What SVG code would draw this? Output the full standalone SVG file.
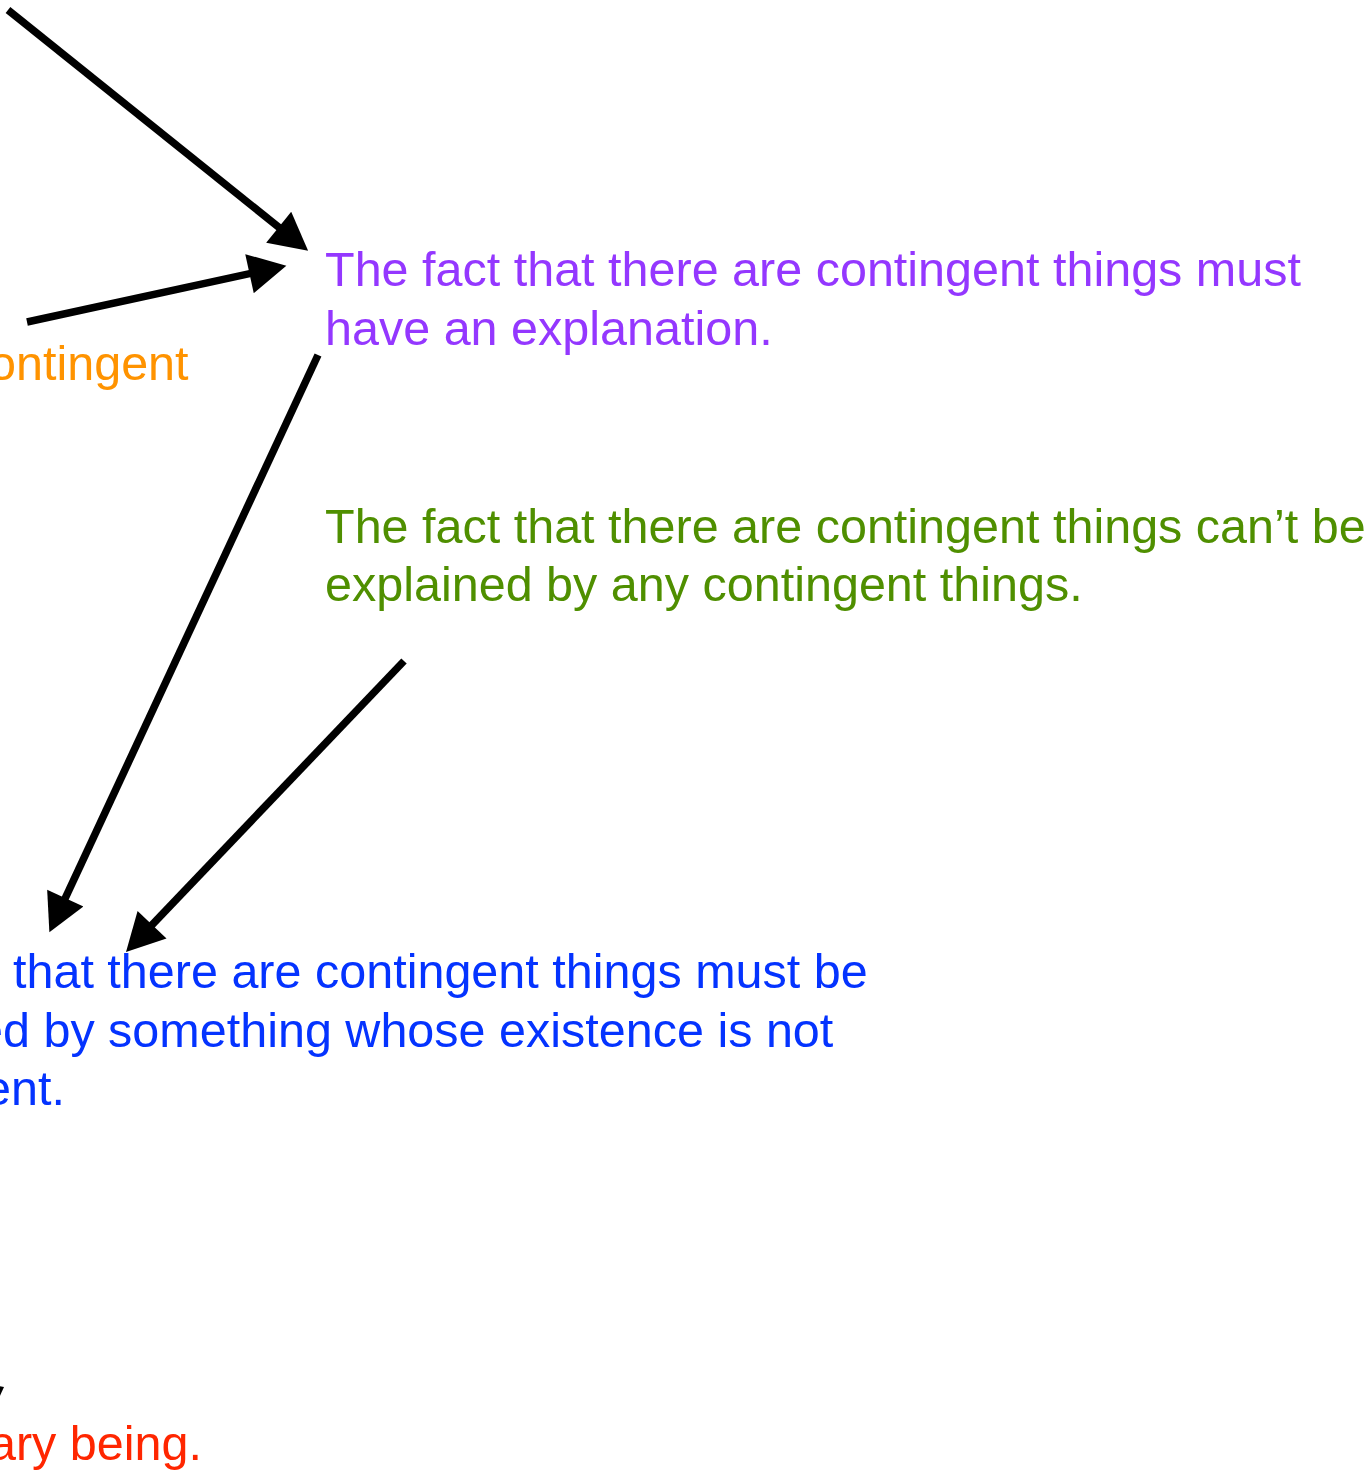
<svg xmlns="http://www.w3.org/2000/svg" width="1367" height="1475" viewBox="0 0 1367 1475">
<defs>
<style>
text{font-family:"Liberation Sans",Arial,sans-serif;font-size:48.5px}
.purple{fill:#9437FF}
.green{fill:#4F8F00}
.blue{fill:#0433FF}
.orange{fill:#FF9300}
.red{fill:#FF2600}
.conn{stroke:#000;stroke-width:7.5;fill:none;marker-end:url(#head)}
</style>
<marker id="head" markerUnits="userSpaceOnUse" markerWidth="40" markerHeight="40" viewBox="0 0 33 35" refX="23" refY="17.5" orient="auto">
<path d="M0,0 L33,17.5 L0,35 z" fill="#000"/>
</marker>
</defs>
<rect width="1367" height="1475" fill="#fff"/>
<g id="connectors">
<line class="conn" x1="8" y1="10" x2="299.2" y2="243.7"/>
<line class="conn" x1="27" y1="322" x2="275.2" y2="268.1"/>
<line class="conn" x1="318" y1="355" x2="54.2" y2="921.9"/>
<line class="conn" x1="404" y1="661" x2="133.9" y2="943.8"/>
<polygon points="-1,1398 4,1387 -30,1380" fill="#000"/>
</g>
<g id="node-explanation">
<text class="purple" x="325" y="286">The fact that there are contingent things must</text>
<text class="purple" x="325" y="345">have an explanation.</text>
</g>
<g id="node-not-contingent-explained">
<text class="green" x="325" y="543">The fact that there are contingent things can’t be</text>
<text class="green" x="325" y="601">explained by any contingent things.</text>
</g>
<g id="node-must-be-explained">
<text class="blue" x="13" y="988">that there are contingent things must be</text>
<text class="blue" x="-24" y="1047">ed by something whose existence is not</text>
<text class="blue" x="-16" y="1105">ent.</text>
</g>
<g id="node-contingent">
<text class="orange" x="-11" y="380">ontingent</text>
</g>
<g id="node-necessary">
<text class="red" x="-11" y="1460">ary being.</text>
</g>
</svg>
